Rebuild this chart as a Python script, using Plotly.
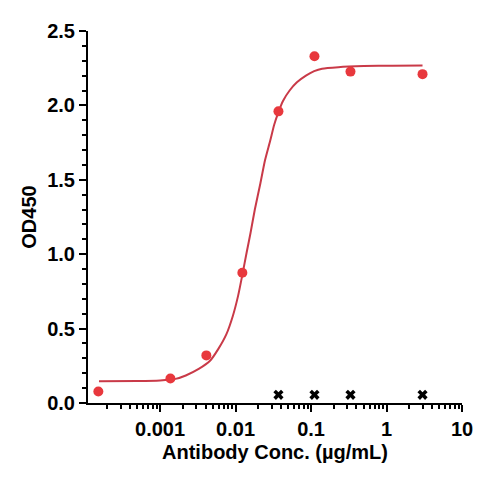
import plotly.graph_objects as go

# Измеренные точки (OD450)
conc = [0.000152, 0.00137, 0.0041, 0.0123, 0.037, 0.111, 0.333, 3.0]
od450 = [0.077, 0.165, 0.32, 0.875, 1.96, 2.33, 2.227, 2.21]

# Кривая аппроксимации
fit_conc = [0.000155, 0.0005, 0.001, 0.0016, 0.00219, 0.00325, 0.00459, 0.00589,
            0.00754, 0.0092, 0.0108, 0.0124, 0.014, 0.0158, 0.018, 0.0213,
            0.0245, 0.0287, 0.0325, 0.0367, 0.0425, 0.052, 0.065, 0.0855,
            0.11, 0.14, 0.23, 0.5, 1.2, 3.0]
fit_od = [0.147, 0.148, 0.152, 0.162, 0.185, 0.229, 0.284, 0.362,
          0.461, 0.585, 0.72, 0.87, 1.01, 1.144, 1.30, 1.475,
          1.63, 1.761, 1.87, 1.95, 2.03, 2.10, 2.155, 2.20,
          2.23, 2.247, 2.257, 2.264, 2.267, 2.268]

# Контроль (крестики)
ctrl_conc = [0.037, 0.111, 0.333, 3.0]
ctrl_od = [0.055, 0.055, 0.055, 0.055]

x_ticks = [0.001, 0.01, 0.1, 1, 10]
x_labels = ["0.001", "0.01", "0.1", "1", "10"]

FAMILY = "Liberation Sans, Arial, sans-serif"
tick_font = dict(size=20, family=FAMILY, color="black", weight="bold")
title_font = dict(size=20, family=FAMILY, color="black", weight="bold")

fig = go.Figure()

fig.add_trace(go.Scatter(
    x=fit_conc, y=fit_od,
    mode="lines",
    line=dict(color="#C93A48", width=2, shape="spline", smoothing=0.6),
    hoverinfo="skip"
))

fig.add_trace(go.Scatter(
    x=conc, y=od450,
    mode="markers",
    marker=dict(color="#E8383D", size=10)
))

fig.add_trace(go.Scatter(
    x=ctrl_conc, y=ctrl_od,
    mode="markers",
    marker=dict(symbol="x", color="black", size=9, line=dict(width=0))
))

fig.update_layout(
    width=477, height=476,
    margin=dict(l=80, r=12, t=17, b=81),
    showlegend=False,
    plot_bgcolor="white",
    paper_bgcolor="white",
    xaxis=dict(
        type="log",
        range=[-3.955, 1.0],
        tickmode="array",
        tickvals=x_ticks,
        ticktext=x_labels,
        ticks="outside", ticklen=7, tickwidth=2, tickcolor="black",
        minor=dict(dtick="D1", ticks="outside", ticklen=4, tickwidth=1.5, tickcolor="black"),
        showline=True, linecolor="black", linewidth=2,
        showgrid=False, zeroline=False,
        tickfont=tick_font,
        title=dict(text="Antibody Conc. (µg/mL)", standoff=6, font=title_font),
    ),
    yaxis=dict(
        range=[0, 2.5],
        dtick=0.5,
        tickformat=".1f",
        ticks="outside", ticklen=7, tickwidth=2, tickcolor="black",
        minor=dict(dtick=0.1, ticks="outside", ticklen=4, tickwidth=1.5, tickcolor="black"),
        showline=True, linecolor="black", linewidth=2,
        showgrid=False, zeroline=False,
        tickfont=tick_font,
        title=dict(text="OD450", standoff=5, font=title_font),
    ),
)

fig.write_html("out.html")
